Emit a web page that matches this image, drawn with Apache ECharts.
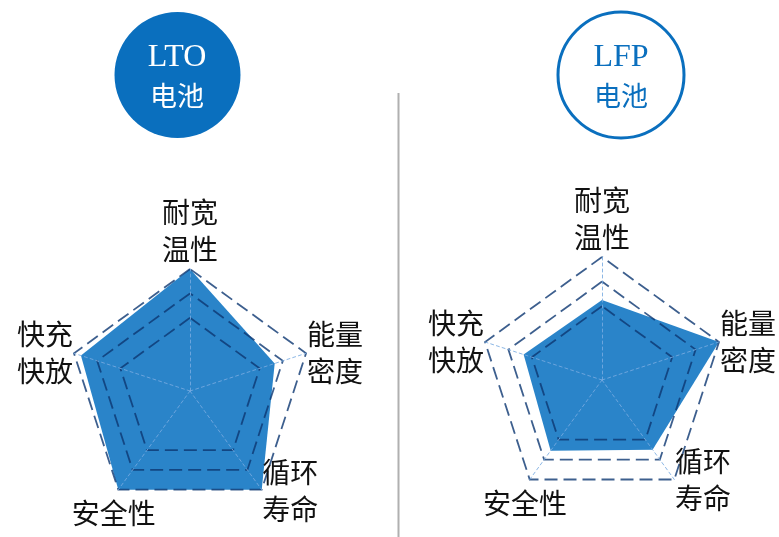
<!DOCTYPE html>
<html>
<head>
<meta charset="utf-8">
<script src="https://cdn.jsdelivr.net/npm/echarts@6/dist/echarts.min.js"></script>
<style>
  html, body { margin: 0; padding: 0; background: #fff; }
  #chart { width: 779px; height: 537px; }
</style>
</head>
<body>
<div id="chart"></div>
<script>
// indicators go counter-clockwise from the top
const indicatorNames = ["耐宽温性", "快充快放", "安全性", "循环寿命", "能量密度"];
const axisMax = 5;
const ltoValues = [5, 4.7, 5, 5, 3.65];
const lfpValues = [3.25, 3.35, 3.55, 3.5, 5];

const blue = "#0a6fbe";
const fillBlue = "#2a84c9";
const dashColor = "rgba(12,55,114,0.8)";
const spokeColor = "rgba(120,170,225,0.85)";
const cjk = "Noto Sans CJK SC";

function nameFormatter(name) {
  if (name.length === 4) return "{two|" + name.slice(0, 2) + "}\n{two|" + name.slice(2) + "}";
  return "{low|" + name + "}";
}

function makeRadar(center, radius) {
  return {
    center: center,
    radius: radius,
    startAngle: 90,
    splitNumber: 5,
    shape: "polygon",
    z: 3,
    nameGap: 1,
    indicator: indicatorNames.map(n => ({ name: n, min: 0, max: axisMax })),
    axisName: {
      color: "#111",
      fontSize: 28,
      fontFamily: cjk,
      formatter: nameFormatter,
      rich: {
        two: {
          fontSize: 28,
          lineHeight: 37,
          fontFamily: cjk,
          color: "#111"
        },
        low: {
          fontSize: 28,
          lineHeight: 37,
          fontFamily: cjk,
          color: "#111",
          width: 46,
          align: "left",
          padding: [46, 0, 0, 0]
        }
      }
    },
    splitLine: {
      lineStyle: {
        color: ["rgba(0,0,0,0)", "rgba(0,0,0,0)", "rgba(0,0,0,0)", dashColor, dashColor, dashColor],
        type: [13, 6],
        width: 1.8
      }
    },
    splitArea: { show: false },
    axisLine: {
      lineStyle: { color: spokeColor, type: [3, 3], width: 1 }
    },
    axisTick: { show: false },
    axisLabel: { show: false }
  };
}

const chart = echarts.init(document.getElementById("chart"));

chart.setOption({
  animation: false,
  radar: [makeRadar([190, 391], 122), makeRadar([602, 380], 123)],
  series: [
    {
      type: "radar",
      radarIndex: 0,
      symbol: "none",
      lineStyle: { width: 0 },
      areaStyle: { color: fillBlue, opacity: 1 },
      data: [{ name: "LTO电池", value: ltoValues }]
    },
    {
      type: "radar",
      radarIndex: 1,
      symbol: "none",
      lineStyle: { width: 0 },
      areaStyle: { color: fillBlue, opacity: 1 },
      data: [{ name: "LFP电池", value: lfpValues }]
    }
  ],
  graphic: [
    {
      type: "circle",
      shape: { cx: 177.5, cy: 75, r: 63 },
      style: { fill: blue }
    },
    {
      type: "text",
      x: 177, y: 58,
      style: { text: "LTO", fill: "#fff", font: "32px 'Liberation Serif'", align: "center", verticalAlign: "middle" }
    },
    {
      type: "text",
      x: 177, y: 96,
      style: { text: "电池", fill: "#fff", font: "27px '" + cjk + "'", align: "center", verticalAlign: "middle" }
    },
    {
      type: "circle",
      shape: { cx: 621, cy: 75, r: 63 },
      style: { fill: "#fff", stroke: blue, lineWidth: 3 }
    },
    {
      type: "text",
      x: 621, y: 58,
      style: { text: "LFP", fill: blue, font: "32px 'Liberation Serif'", align: "center", verticalAlign: "middle" }
    },
    {
      type: "text",
      x: 621, y: 96,
      style: { text: "电池", fill: blue, font: "27px '" + cjk + "'", align: "center", verticalAlign: "middle" }
    },
    {
      type: "line",
      shape: { x1: 398.5, y1: 93, x2: 398.5, y2: 537 },
      style: { stroke: "#b0b0b0", lineWidth: 2 }
    }
  ]
});
</script>
</body>
</html>
